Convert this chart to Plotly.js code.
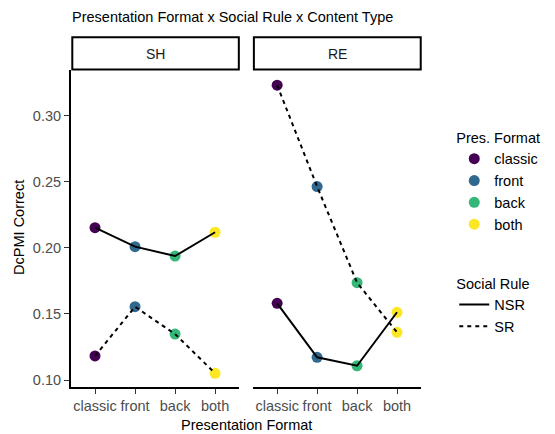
<!DOCTYPE html>
<html>
<head>
<meta charset="utf-8">
<script src="https://cdn.plot.ly/plotly-3.0.1.min.js"></script>
<style>html,body{margin:0;padding:0;background:#fff;}#chart{width:555px;height:434px;}</style>
</head>
<body>
<div id="chart"></div>
<script>
// ---- data ----
const formats = ['classic', 'front', 'back', 'both'];
const formatColors = ['#440154', '#31688E', '#35B779', '#FDE725'];
const panels = ['SH', 'RE'];
const rules = ['NSR', 'SR'];
const shNSR = [0.2154, 0.2010, 0.1939, 0.2119];
const shSR  = [0.1182, 0.1555, 0.1348, 0.1051];
const reNSR = [0.1581, 0.1172, 0.1108, 0.1513];
const reSR  = [0.3233, 0.2465, 0.1737, 0.1361];
const yTicks = [0.10, 0.15, 0.20, 0.25, 0.30];

const FONT = 'Liberation Sans, Arial, sans-serif';
const values = {SH: {NSR: shNSR, SR: shSR}, RE: {NSR: reNSR, SR: reSR}};
const dashes = {NSR: 'solid', SR: '4px,4px'};

const traces = [];
panels.forEach((p, pi) => {
  const xa = pi === 0 ? 'x' : 'x2';
  const ya = pi === 0 ? 'y' : 'y2';
  formats.forEach((f, fi) => {
    traces.push({
      type: 'scatter', mode: 'markers', xaxis: xa, yaxis: ya,
      x: rules.map(() => f), y: rules.map(r => values[p][r][fi]),
      marker: {color: formatColors[fi], size: 11},
      name: f, legendgroup: 'fmt_' + f, legend: 'legend',
      showlegend: pi === 0, hoverinfo: 'skip'
    });
  });
});
panels.forEach((p, pi) => {
  const xa = pi === 0 ? 'x' : 'x2';
  const ya = pi === 0 ? 'y' : 'y2';
  rules.forEach(r => {
    traces.push({
      type: 'scatter', mode: 'lines', xaxis: xa, yaxis: ya,
      x: formats, y: values[p][r],
      line: {color: '#000', width: 2, dash: dashes[r]},
      name: r, legendgroup: 'rule_' + r, legend: 'legend2',
      showlegend: pi === 0, hoverinfo: 'skip'
    });
  });
});

const xBase = {
  type: 'category', categoryorder: 'array', categoryarray: formats,
  range: [-0.6, 3.6], showgrid: false, zeroline: false,
  showline: true, linecolor: '#000', linewidth: 2,
  ticks: 'outside', ticklen: 5, tickwidth: 1, tickcolor: '#333',
  tickfont: {family: FONT, size: 14.5, color: '#4d4d4d'}, fixedrange: true
};
const yRange = [0.0947, 0.3348];

const layout = {
  width: 555, height: 434,
  margin: {l: 71, r: 128, t: 70, b: 47},
  paper_bgcolor: '#fff', plot_bgcolor: '#fff',
  font: {family: FONT, color: '#000'},
  title: {text: 'Presentation Format x Social Rule x Content Type',
          font: {family: FONT, size: 14.5, color: '#000'},
          x: 72 / 555, xanchor: 'left', xref: 'container',
          y: 1 - 17 / 434, yanchor: 'middle', yref: 'container'},
  xaxis: Object.assign({}, xBase, {domain: [0, 0.4803], anchor: 'y'}),
  xaxis2: Object.assign({}, xBase, {domain: [0.5205, 1], anchor: 'y2'}),
  yaxis: {domain: [0, 1], range: yRange, anchor: 'x', showgrid: false, zeroline: false,
          showline: true, linecolor: '#000', linewidth: 2,
          ticks: 'outside', ticklen: 5, tickwidth: 1, tickcolor: '#333',
          tickvals: yTicks, ticktext: yTicks.map(v => v.toFixed(2)),
          tickfont: {family: FONT, size: 14.5, color: '#4d4d4d'}, fixedrange: true},
  yaxis2: {domain: [0, 1], range: yRange, anchor: 'x2', matches: 'y', showgrid: false,
           zeroline: false, showline: false, showticklabels: false, ticks: '', fixedrange: true},
  showlegend: true,
  legend: {title: {text: 'Pres. Format', font: {family: FONT, size: 14.5, color: '#000'}},
           font: {family: FONT, size: 14.5, color: '#000'},
           x: 1.095, xanchor: 'left', y: 0.83, yanchor: 'top',
           bgcolor: 'rgba(0,0,0,0)', tracegroupgap: 0, itemwidth: 30},
  legend2: {title: {text: 'Social Rule', font: {family: FONT, size: 14.5, color: '#000'}},
            font: {family: FONT, size: 14.5, color: '#000'},
            x: 1.095, xanchor: 'left', y: 0.37, yanchor: 'top',
            bgcolor: 'rgba(0,0,0,0)', tracegroupgap: 0, itemwidth: 30},
  shapes: [
    {type: 'rect', xref: 'paper', yref: 'paper', x0: 0.0037, x1: 0.4795, y0: 1.0016, y1: 1.103,
     line: {color: '#000', width: 2}, fillcolor: '#fff', layer: 'above'},
    {type: 'rect', xref: 'paper', yref: 'paper', x0: 0.5225, x1: 0.9992, y0: 1.0016, y1: 1.103,
     line: {color: '#000', width: 2}, fillcolor: '#fff', layer: 'above'}
  ],
  annotations: [
    {text: panels[0], xref: 'paper', yref: 'paper', x: (0.0037 + 0.4795) / 2, y: 1.052,
     showarrow: false, xanchor: 'center', yanchor: 'middle', font: {family: FONT, size: 14, color: '#1a1a1a'}},
    {text: panels[1], xref: 'paper', yref: 'paper', x: (0.5225 + 0.9992) / 2, y: 1.052,
     showarrow: false, xanchor: 'center', yanchor: 'middle', font: {family: FONT, size: 14, color: '#1a1a1a'}},
    {text: 'Presentation Format', xref: 'paper', yref: 'paper', x: 0.5, y: -(425 - 387) / 317,
     showarrow: false, xanchor: 'center', yanchor: 'middle', font: {family: FONT, size: 14.5, color: '#000'}},
    {text: 'DcPMI Correct', xref: 'paper', yref: 'paper', x: -(71 - 18) / 356, y: (387 - 227) / 317,
     showarrow: false, xanchor: 'center', yanchor: 'middle', textangle: -90,
     font: {family: FONT, size: 14.5, color: '#000'}}
  ]
};

Plotly.newPlot('chart', traces, layout, {staticPlot: true, displayModeBar: false});
</script>
</body>
</html>
